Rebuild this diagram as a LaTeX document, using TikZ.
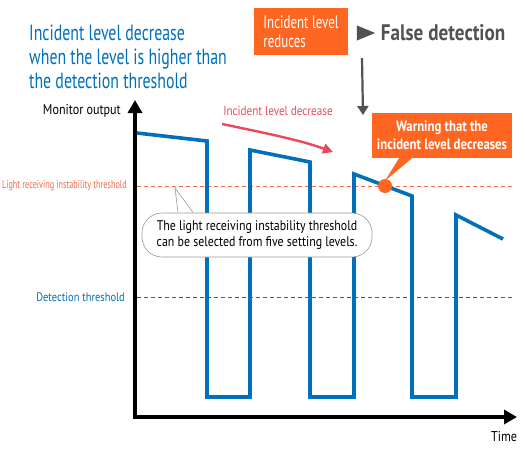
\documentclass[tikz,border=0pt]{standalone}
\usepackage{fontspec}
\setmainfont[FakeStretch=0.72]{PT Sans}
\newfontfamily\widefont[FakeStretch=0.85]{PT Sans}
\usepackage{tikz}
\usetikzlibrary{shapes.geometric, arrows.meta, positioning, calc}
\definecolor{keyblue}{RGB}{0,112,186}
\definecolor{keyorange}{RGB}{255,102,34}
\definecolor{keypink}{RGB}{236,72,92}
\definecolor{keyred}{RGB}{244,104,70}
\definecolor{keygray}{RGB}{80,82,84}
\tikzset{
    title/.style={align=left, text=keyblue, font=\fontsize{22}{24}\selectfont, inner sep=0pt},
    tag/.style={rectangle, fill=keyorange, text=white, inner sep=0pt, font=\fontsize{18}{19}\selectfont},
    axislabel/.style={font=\widefont\fontsize{14.2}{16}\selectfont, inner sep=0pt},
    thrlabel/.style={font=\widefont\fontsize{12.3}{14}\selectfont, inner sep=0pt, anchor=east},
    thrline/.style={dashed, dash pattern=on 4pt off 3pt, line width=0.8pt},
    signal/.style={keyblue, line width=3.6pt, line join=miter},
    axis/.style={line width=3.6pt, {Triangle[length=13pt, width=14pt]}-{Triangle[length=13pt, width=14pt]}},
    bubble/.style={rectangle, draw=gray!80, fill=white, rounded corners=20pt, line width=0.6pt, minimum width=230pt, minimum height=44pt, align=center, font=\widefont\fontsize{14}{16.5}\selectfont},
    arrow/.style={-{Triangle[length=9pt, width=11pt]}, line width=2.2pt},
}
\begin{document}
\begin{tikzpicture}[x=1pt, y=-1pt]
    \useasboundingbox (0,0) rectangle (526,450);
    % Title
    \node[title, anchor=west] (title) at (29,57) {Incident level decrease\\when the level is higher than\\the detection threshold};

    % Header: incident level reduces -> false detection
    \node[tag, minimum width=94pt, minimum height=47pt, align=left] (reduce) at (301,31.5) {Incident level\\reduces};
    \node[isosceles triangle, fill=keygray, minimum height=13pt, minimum width=15pt, inner sep=0pt] (tri) at (362,33) {};
    \node[right=5pt of tri, inner sep=0pt, text=keygray, font=\widefont\fontsize{22.5}{24}\selectfont\bfseries] (false) {False detection};

    % Axes
    \coordinate (origin) at (135,417);
    \coordinate (ytip) at (135,100);
    \coordinate (xtip) at (517,417);
    \draw[axis] (ytip) -- (origin) -- (xtip);
    \node[axislabel, anchor=east] (monitor) at (121,111) {Monitor output};
    \node[axislabel] (time) at (504,437) {Time};

    % Thresholds
    \node[thrlabel, text=keyred, font=\fontsize{11.4}{13}\selectfont] (instab) at (127,186) {Light receiving instability threshold};
    \node[thrlabel, text=keyblue] (detect) at (125,297) {Detection threshold};
    \coordinate (instabend) at (513,186);
    \coordinate (detectend) at (513,297);
    \draw[thrline, keyred] ([xshift=10pt]instab.east) -- (instabend);
    \draw[thrline, keyblue] ([xshift=12pt]detect.east) -- (detectend);

    % Monitor output signal
    \draw[signal] (137,133) -- (207,141) -- (207,397) -- (250,397) -- (250,150) -- (310,162) -- (310,397)
        -- (354,397) -- (354,174) -- (412,196) -- (412,397) -- (456,397) -- (456,215) -- (503,239);

    % Incident level decrease
    \node[axislabel, text=keypink, font=\widefont\fontsize{13.1}{15}\selectfont] (decrease) at (278,111) {Incident level decrease};
    \coordinate (decstart) at (222,124);
    \coordinate (decend) at (333,152);
    \draw[-{Triangle[length=10pt, width=10pt]}, keypink, line width=2.4pt] (decstart) .. controls (265,133) and (300,140) .. (decend);

    % Warning
    \node[circle, fill=keyorange, minimum size=14pt, inner sep=0pt] (dot) at (385,186) {};
    \node[tag, minimum width=140pt, minimum height=45pt, align=center, font=\widefont\fontsize{15}{18}\selectfont\bfseries] (warn) at (442,135.5) {Warning that the\\incident level decreases};
    \fill[keyorange] ([xshift=-43pt]warn.south) -- ([yshift=-2pt]dot.north) -- ([xshift=-30pt]warn.south) -- cycle;
    \coordinate (warnend) at (363,115);
    \draw[arrow, keygray] (tri.south |- reduce.south) ++(0,3) -- (warnend);

    % Speech bubble
    \node[bubble] (note) at (257,235) {The light receiving instability threshold\\can be selected from five setting levels.};
    \coordinate (notetip) at (175,188);
    \fill[white] ([xshift=-79pt, yshift=1pt]note.north) -- (notetip) -- ([xshift=-64pt, yshift=1pt]note.north) -- cycle;
    \draw[gray!80, line width=0.6pt] ([xshift=-79pt, yshift=0.3pt]note.north) -- (notetip) -- ([xshift=-64pt, yshift=0.3pt]note.north);
\end{tikzpicture}
\end{document}
